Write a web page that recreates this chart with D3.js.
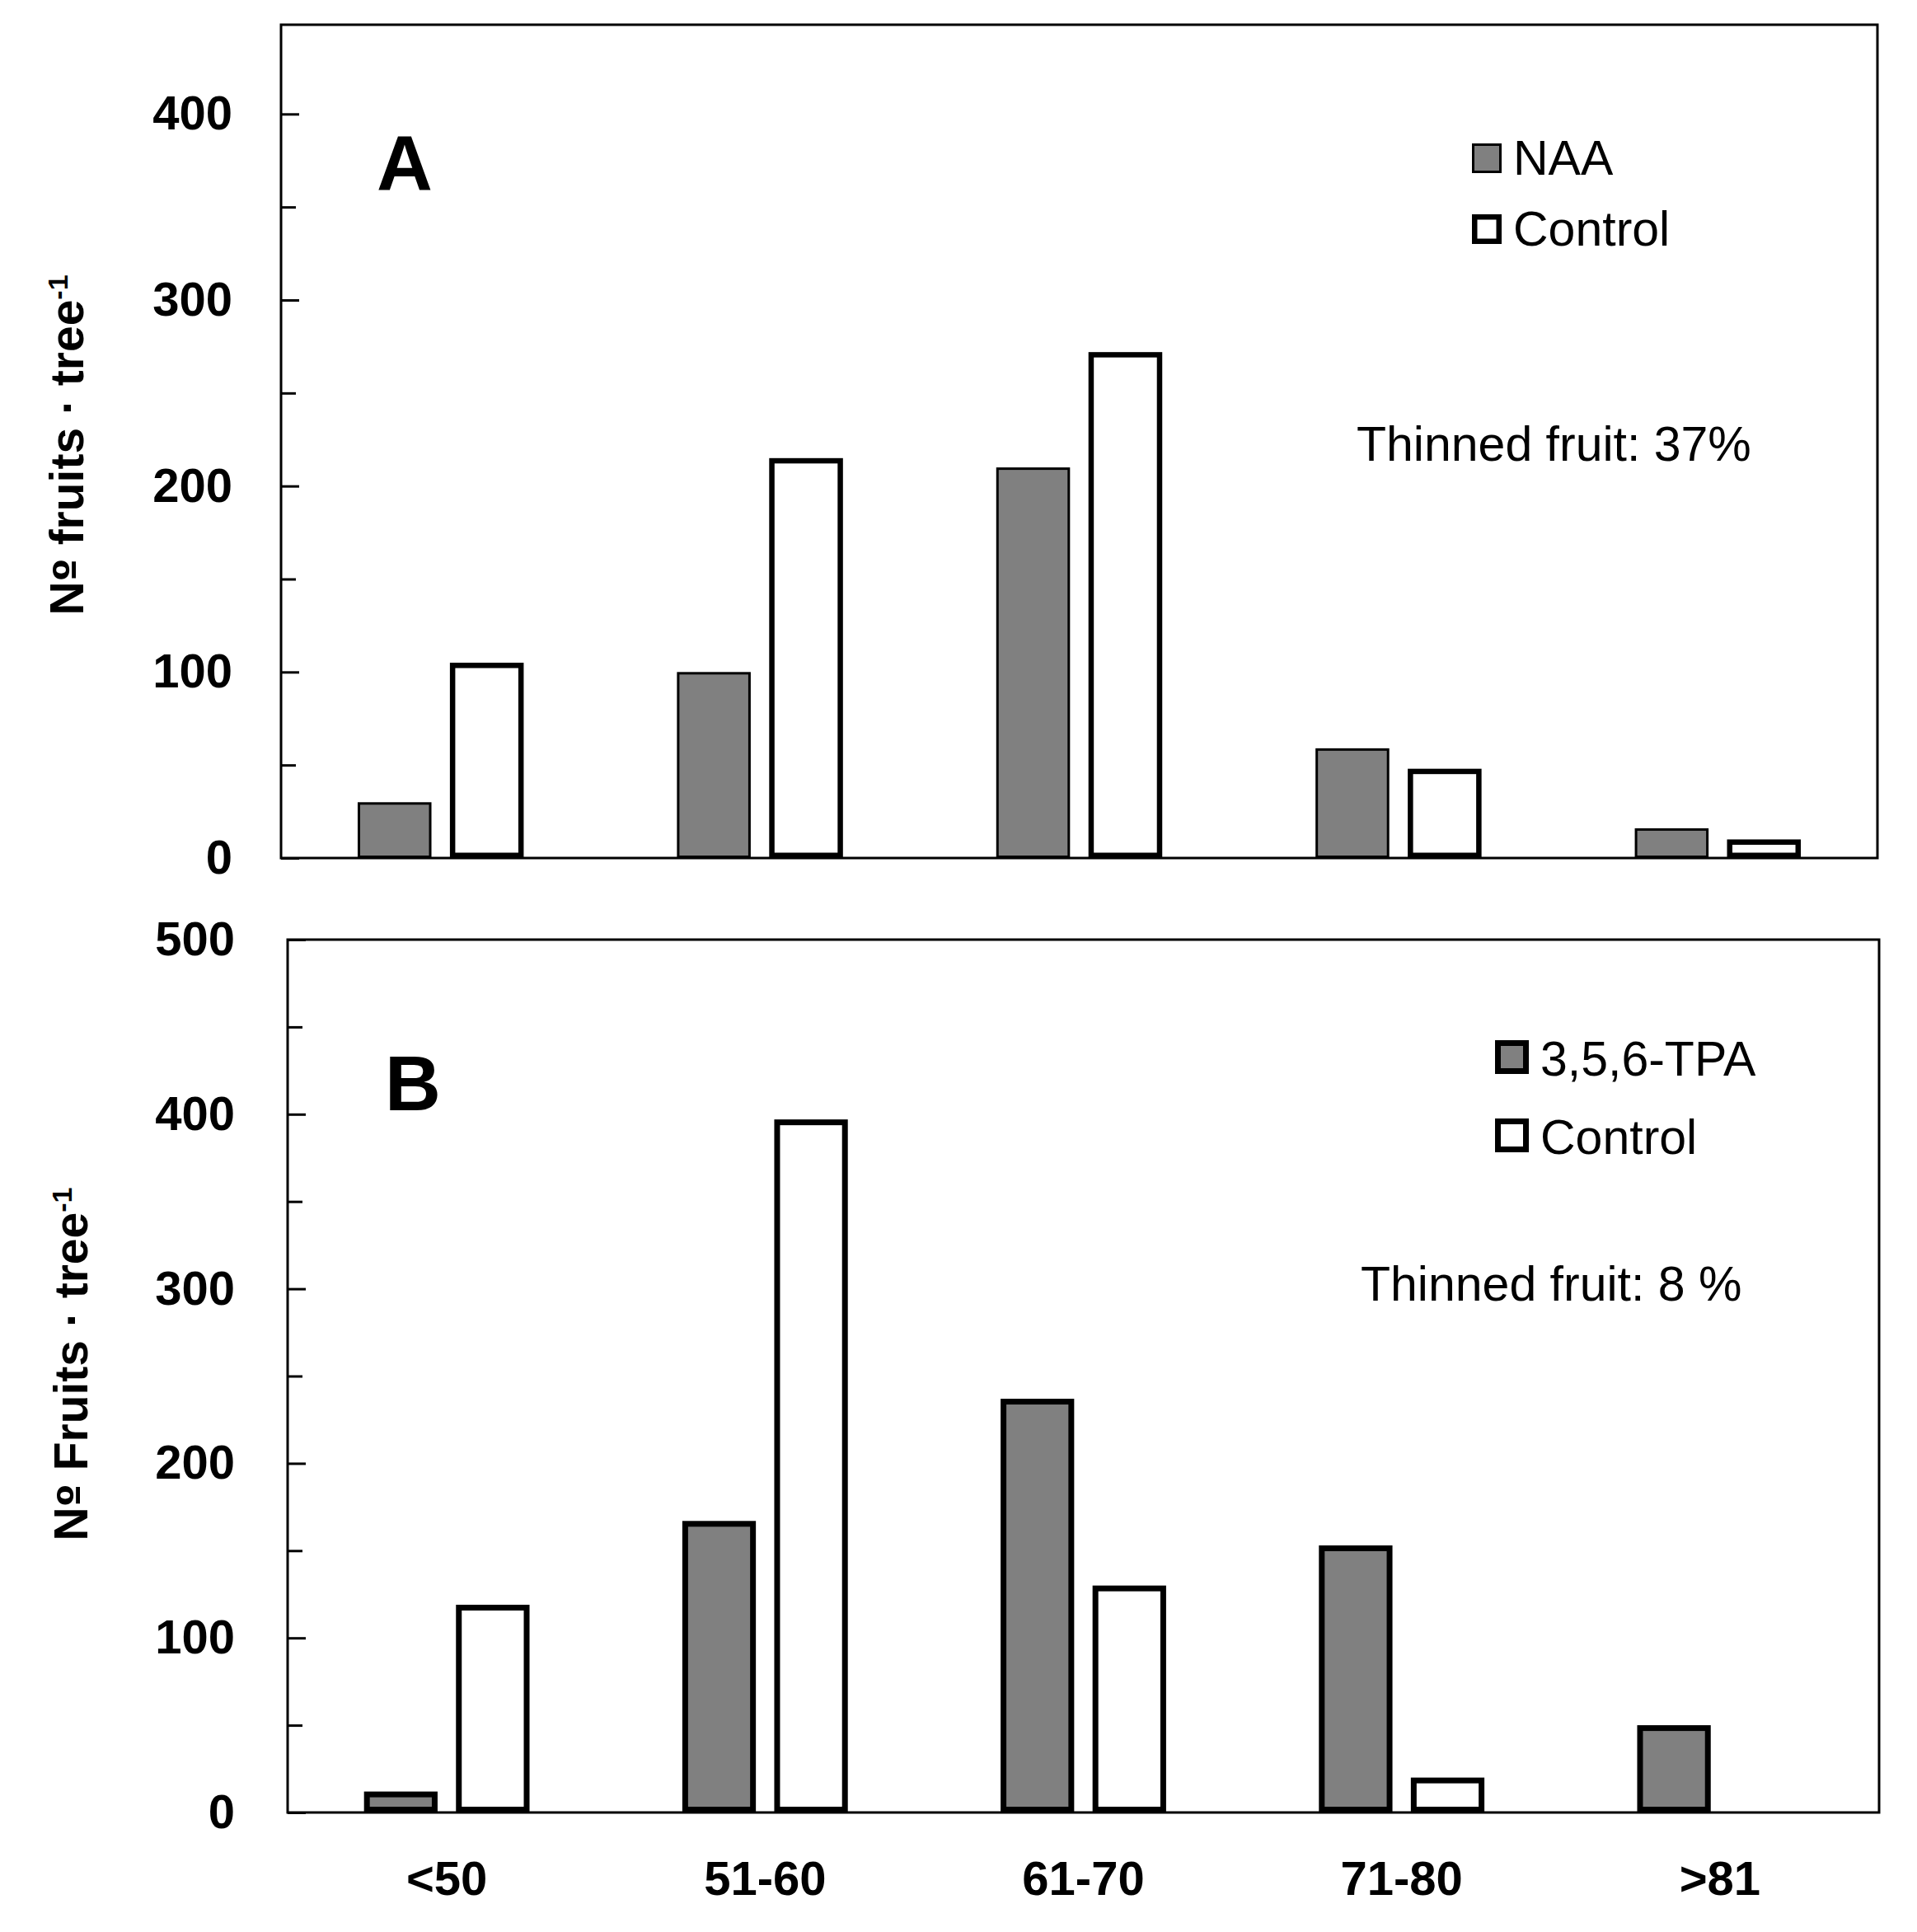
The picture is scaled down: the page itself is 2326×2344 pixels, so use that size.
<!DOCTYPE html>
<html>
<head>
<meta charset="utf-8">
<script src="https://cdn.jsdelivr.net/npm/d3@7"></script>
<style>
  body { margin: 0; background: #fff; }
  text { font-family: "Liberation Sans", Arial, sans-serif; fill: #000; }
</style>
</head>
<body>
<script>
// fruit size classes (mm)
var categories = ["<50", "51-60", "61-70", "71-80", ">81"];

// panel A: NAA vs control
var naaValues = [30, 100, 210, 59, 16];
var controlA = [105, 215, 272, 48, 10];

// panel B: 3,5,6-TPA vs control
var tpaValues = [12, 167, 237, 153, 50];
var controlB = [119, 397, 130, 20, 0];

var ticksA = [0, 100, 200, 300, 400],
    minorA = [50, 150, 250, 350];
var ticksB = [0, 100, 200, 300, 400, 500],
    minorB = [50, 150, 250, 350, 450];

var svg = d3.select("body").append("svg")
    .attr("width", 2326)
    .attr("height", 2344);

// one panel = framed plot with grey treated bars and white control bars
function drawPanel(p) {
  var x = d3.scaleBand().domain(categories).range([p.left, p.right]);
  var y = d3.scaleLinear().domain([0, p.ymax]).range([p.bottom, p.top]);
  var bw = x.bandwidth();
  var x1 = d3.scaleBand().domain([0, 1])
      .range([bw * 0.24, bw * 0.76]).paddingInner(0.2);

  var g = svg.append("g");

  // minor ticks
  g.append("g")
    .attr("transform", "translate(" + p.left + ",0)")
    .call(d3.axisLeft(y).tickValues(p.minor).tickSize(-18).tickFormat(""))
    .call(function(s) { s.select(".domain").remove(); })
    .selectAll("line").attr("stroke", "#000").attr("stroke-width", 3);

  // major ticks + labels
  var ax = g.append("g")
    .attr("transform", "translate(" + p.left + ",0)")
    .call(d3.axisLeft(y).tickValues(p.ticks).tickSize(-22).tickPadding(p.pad));
  ax.select(".domain").remove();
  ax.selectAll("line").attr("stroke", "#000").attr("stroke-width", 3);
  ax.selectAll("text")
    .style("font-family", "'Liberation Sans', Arial, sans-serif")
    .style("font-weight", "bold")
    .style("font-size", "58px")
    .attr("fill", "#000");

  // bars
  var series = [p.treated, p.control];
  series.forEach(function(vals, si) {
    var sw = (si === 0) ? p.treatedStroke : p.controlStroke;
    g.selectAll(".bar" + si)
      .data(categories.map(function(c, i) { return {cat: c, v: vals[i]}; })
        .filter(function(d) { return d.v > 0; }))
      .enter().append("rect")
      .attr("x", function(d) { return x(d.cat) + x1(si) + sw / 2; })
      .attr("y", function(d) { return y(d.v) + sw / 2; })
      .attr("width", x1.bandwidth() - sw)
      .attr("height", function(d) { return Math.max(0, y(0) - y(d.v) - sw); })
      .attr("fill", si === 0 ? "#808080" : "#fff")
      .attr("stroke", "#000")
      .attr("stroke-width", sw);
  });

  // frame
  g.append("rect")
    .attr("x", p.left).attr("y", p.top)
    .attr("width", p.right - p.left).attr("height", p.bottom - p.top)
    .attr("fill", "none").attr("stroke", "#000").attr("stroke-width", 3);

  // panel letter
  g.append("text")
    .attr("x", p.letterX).attr("y", p.letterY)
    .style("font-size", "94px").style("font-weight", "bold")
    .text(p.letter);

  // legend
  var leg = [{name: p.treatedName, fill: "#808080", sw: p.treatedStroke},
             {name: "Control", fill: "#fff", sw: p.controlStroke}];
  leg.forEach(function(l, i) {
    var ly = p.legY + i * p.legGap;
    var s = p.swatch;
    g.append("rect")
      .attr("x", p.legX + l.sw / 2).attr("y", ly - s - 2 + l.sw / 2)
      .attr("width", s - l.sw).attr("height", s - l.sw)
      .attr("fill", l.fill).attr("stroke", "#000").attr("stroke-width", l.sw);
    g.append("text")
      .attr("x", p.legX + s + 14).attr("y", ly)
      .style("font-size", "59px")
      .text(l.name);
  });

  g.append("text")
    .attr("x", p.noteX).attr("y", p.noteY)
    .style("font-size", "59px")
    .text(p.note);

  // y axis title
  var t = g.append("text")
    .attr("transform", "translate(" + p.titleX + "," + p.titleY + ")rotate(-90)")
    .attr("text-anchor", "middle")
    .attr("dy", "0.35em")
    .style("font-size", "57px").style("font-weight", "bold");
  t.append("tspan").text("N");
  t.append("tspan").style("font-family", "'DejaVu Sans', sans-serif")
    .style("font-size", "50px").text("º");
  t.append("tspan").text(p.title);
  t.append("tspan").attr("dy", "-0.55em").style("font-size", "34px").text("-1");

  return x;
}

drawPanel({
  left: 341, right: 2278, top: 30, bottom: 1041, ymax: 448,
  ticks: ticksA, minor: minorA, pad: 59,
  treated: naaValues, control: controlA, treatedStroke: 3, controlStroke: 6.5,
  treatedName: "NAA", letter: "A", letterX: 457, letterY: 231,
  legX: 1786, legY: 212, legGap: 86, swatch: 36,
  note: "Thinned fruit: 37%", noteX: 1646, noteY: 559,
  title: " fruits · tree", titleX: 81, titleY: 540
});

var xB = drawPanel({
  left: 349, right: 2280, top: 1140, bottom: 2199, ymax: 500,
  ticks: ticksB, minor: minorB, pad: 64,
  treated: tpaValues, control: controlB, treatedStroke: 7, controlStroke: 7,
  treatedName: "3,5,6-TPA", letter: "B", letterX: 467, letterY: 1347,
  legX: 1814, legY: 1305, legGap: 95, swatch: 41,
  note: "Thinned fruit: 8 %", noteX: 1651, noteY: 1578,
  title: " Fruits · tree", titleX: 86, titleY: 1655
});

// category labels under panel B
svg.append("g")
  .attr("transform", "translate(0,2199)")
  .call(d3.axisBottom(xB).tickSize(0).tickPadding(59))
  .call(function(s) { s.select(".domain").remove(); })
  .selectAll("text")
  .style("font-family", "'Liberation Sans', Arial, sans-serif")
  .style("font-weight", "bold")
  .style("font-size", "58px")
  .attr("fill", "#000");
</script>
</body>
</html>
